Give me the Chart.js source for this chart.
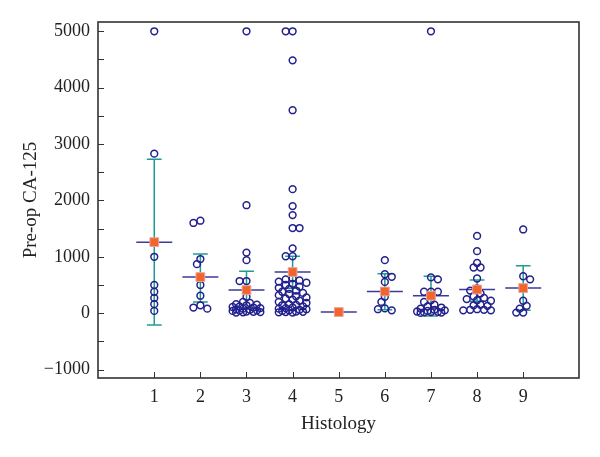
<!DOCTYPE html>
<html>
<head>
<meta charset="utf-8">
<script src="https://cdn.jsdelivr.net/npm/chart.js@4.4.0/dist/chart.umd.min.js"></script>
<style>
  html, body { margin: 0; padding: 0; background: #fff; }
  #wrap { width: 600px; height: 457px; }
</style>
</head>
<body>
<div id="wrap"><canvas id="grafico"></canvas></div>
<script>
// dados (CA-125 pre-operatorio por histologia)
const histologias = [1, 2, 3, 4, 5, 6, 7, 8, 9];

const ca125 = [
  [5000, 2830, 1000, 500, 380, 270, 160, 40],
  [1640, 1600, 960, 870, 500, 310, 140, 100, 80],
  [5000, 1915, 1075, 940, 570, 570, 290, 200, 180, 160, 150, 140, 120, 110, 100, 90, 80, 70, 60, 50, 45, 40, 30, 25, 20, 15, 10],
  [5000, 5000, 4485, 3600, 2200, 1900, 1740, 1510, 1510, 1150, 1010, 1010,
   620, 600, 580, 560, 540, 520, 500, 470, 450, 430, 400, 380, 360, 340, 320, 300,
   280, 260, 240, 220, 200, 180, 160, 150, 140, 120, 100, 90, 80, 70, 60, 50, 40, 30, 25, 20, 15, 10],
  [20],
  [940, 690, 645, 555, 290, 200, 85, 70, 50],
  [5000, 635, 600, 380, 380, 380, 230, 200, 150, 120, 100, 80, 60, 50, 40, 30, 25, 20, 15, 10, 5],
  [1370, 1100, 890, 810, 810, 615, 440, 400, 350, 300, 270, 250, 230, 220, 150, 140, 130, 70, 60, 60, 50, 50],
  [1485, 655, 600, 220, 130, 80, 10, 10]
];

// media e intervalo de confianca 95%
const medias = [1260, 640, 410, 730, 20, 385, 310, 420, 445];
const icInferior = [-210, 200, 75, 440, 20, 60, -50, 210, 50];
const icSuperior = [2730, 1050, 745, 1010, 20, 700, 655, 590, 840];

const yTicks = [-1000, -500, 0, 500, 1000, 1500, 2000, 2500, 3000, 3500, 4000, 4500, 5000];

const fonte = 'Liberation Serif';
const corPonto = '#22208c';
const corMedia = '#3d3a9e';
const corIC = '#1f9c92';

// espalha os pontos lado a lado quando os valores se sobrepoem
const LARG_X = 0.15;
const ALT_Y = 125;
const DIST_MIN = 0.75;
const PASSOS = 4; // desvio maximo = PASSOS * LARG_X / 2
function espalhar(lista, centro) {
  const postos = [];
  lista.slice().sort((a, b) => b - a).forEach(v => {
    const sinal = postos.length % 2 ? -1 : 1;
    const cands = [0];
    for (let j = 1; j <= PASSOS; j++) cands.push(sinal * j * LARG_X / 2, -sinal * j * LARG_X / 2);
    let escolhido = null, melhor = 0, reserva = 0;
    for (const dx of cands) {
      const d = postos.reduce((m, p) =>
        Math.min(m, Math.hypot((p.x - centro - dx) / LARG_X, (p.y - v) / ALT_Y)), Infinity);
      if (d >= DIST_MIN) { escolhido = dx; break; }
      if (d > melhor) { melhor = d; reserva = dx; }
    }
    postos.push({ x: centro + (escolhido === null ? reserva : escolhido), y: v });
  });
  return postos;
}

const pontos = histologias.flatMap((h, i) => espalhar(ca125[i], h));
const pontosMedia = histologias.map((h, i) => ({ x: h, y: medias[i] }));

// linhas de media, barras de IC, moldura e marcas de escala
const moldura = {
  id: 'moldura',
  beforeDatasetsDraw(chart) {
    const { ctx, scales: { x, y } } = chart;
    ctx.save();
    histologias.forEach((h, i) => {
      const cx = x.getPixelForValue(h);
      if (icSuperior[i] !== icInferior[i]) {
        const yl = y.getPixelForValue(icInferior[i]);
        const yh = y.getPixelForValue(icSuperior[i]);
        const cap = x.getPixelForValue(h + 0.16) - cx;
        ctx.strokeStyle = corIC;
        ctx.lineWidth = 1.5;
        ctx.beginPath();
        ctx.moveTo(cx, yl); ctx.lineTo(cx, yh);
        ctx.moveTo(cx - cap, yl); ctx.lineTo(cx + cap, yl);
        ctx.moveTo(cx - cap, yh); ctx.lineTo(cx + cap, yh);
        ctx.stroke();
      }
      const ym = y.getPixelForValue(medias[i]);
      const meia = x.getPixelForValue(h + 0.39) - cx;
      ctx.strokeStyle = corMedia;
      ctx.lineWidth = 1.5;
      ctx.beginPath();
      ctx.moveTo(cx - meia, ym); ctx.lineTo(cx + meia, ym);
      ctx.stroke();
    });
    ctx.restore();
  },
  afterDraw(chart) {
    const { ctx, chartArea: a, scales: { x, y } } = chart;
    ctx.save();
    ctx.strokeStyle = '#333';
    ctx.lineWidth = 1;
    ctx.beginPath();
    x.ticks.forEach(t => {
      const px = Math.round(x.getPixelForValue(t.value)) + 0.5;
      ctx.moveTo(px, a.bottom); ctx.lineTo(px, a.bottom - 6);
    });
    y.ticks.forEach(t => {
      const py = Math.round(y.getPixelForValue(t.value)) + 0.5;
      ctx.moveTo(a.left, py); ctx.lineTo(a.left + 6, py);
    });
    ctx.stroke();
    ctx.lineWidth = 1.6;
    ctx.strokeRect(a.left, a.top, a.right - a.left, a.bottom - a.top);
    ctx.restore();
  }
};

new Chart(document.getElementById('grafico'), {
  type: 'scatter',
  data: {
    datasets: [
      {
        label: 'Media',
        data: pontosMedia,
        pointStyle: 'rect',
        pointRadius: 6.2,
        pointHoverRadius: 6.2,
        backgroundColor: '#f2642a',
        borderColor: '#e9a59c',
        borderWidth: 1
      },
      {
        label: 'CA-125',
        data: pontos,
        pointStyle: 'circle',
        pointRadius: 3.4,
        pointHoverRadius: 3.4,
        backgroundColor: 'rgba(255,255,255,0)',
        borderColor: corPonto,
        borderWidth: 1.5
      }
    ]
  },
  options: {
    responsive: true,
    maintainAspectRatio: false,
    animation: false,
    layout: { padding: { left: 0, top: 22, right: 21, bottom: 0 } },
    plugins: { legend: { display: false }, tooltip: { enabled: false } },
    scales: {
      x: {
        type: 'linear',
        min: -0.22,
        max: 10.21,
        afterBuildTicks: s => { s.ticks = histologias.map(v => ({ value: v })); },
        afterFit: s => { s.height = 79; },
        grid: { drawOnChartArea: false, drawTicks: false },
        border: { display: false },
        ticks: { color: '#222', padding: 8, maxRotation: 0, font: { family: fonte, size: 18 } },
        title: { display: true, text: 'Histology', color: '#222', padding: { top: 0, bottom: 22 }, font: { family: fonte, size: 19 } }
      },
      y: {
        min: -1150,
        max: 5165,
        afterBuildTicks: s => { s.ticks = yTicks.map(v => ({ value: v })); },
        afterFit: s => { s.width = 98; },
        grid: { drawOnChartArea: false, drawTicks: false },
        border: { display: false },
        ticks: {
          color: '#222',
          padding: 8,
          font: { family: fonte, size: 18 },
          callback: v => (v % 1000 === 0 ? String(v).replace('-', '\u2212') : '')
        },
        title: { display: true, text: 'Pre-op CA-125', color: '#222', padding: { top: 20, bottom: 0 }, font: { family: fonte, size: 19 } }
      }
    }
  },
  plugins: [moldura]
});
</script>
</body>
</html>
